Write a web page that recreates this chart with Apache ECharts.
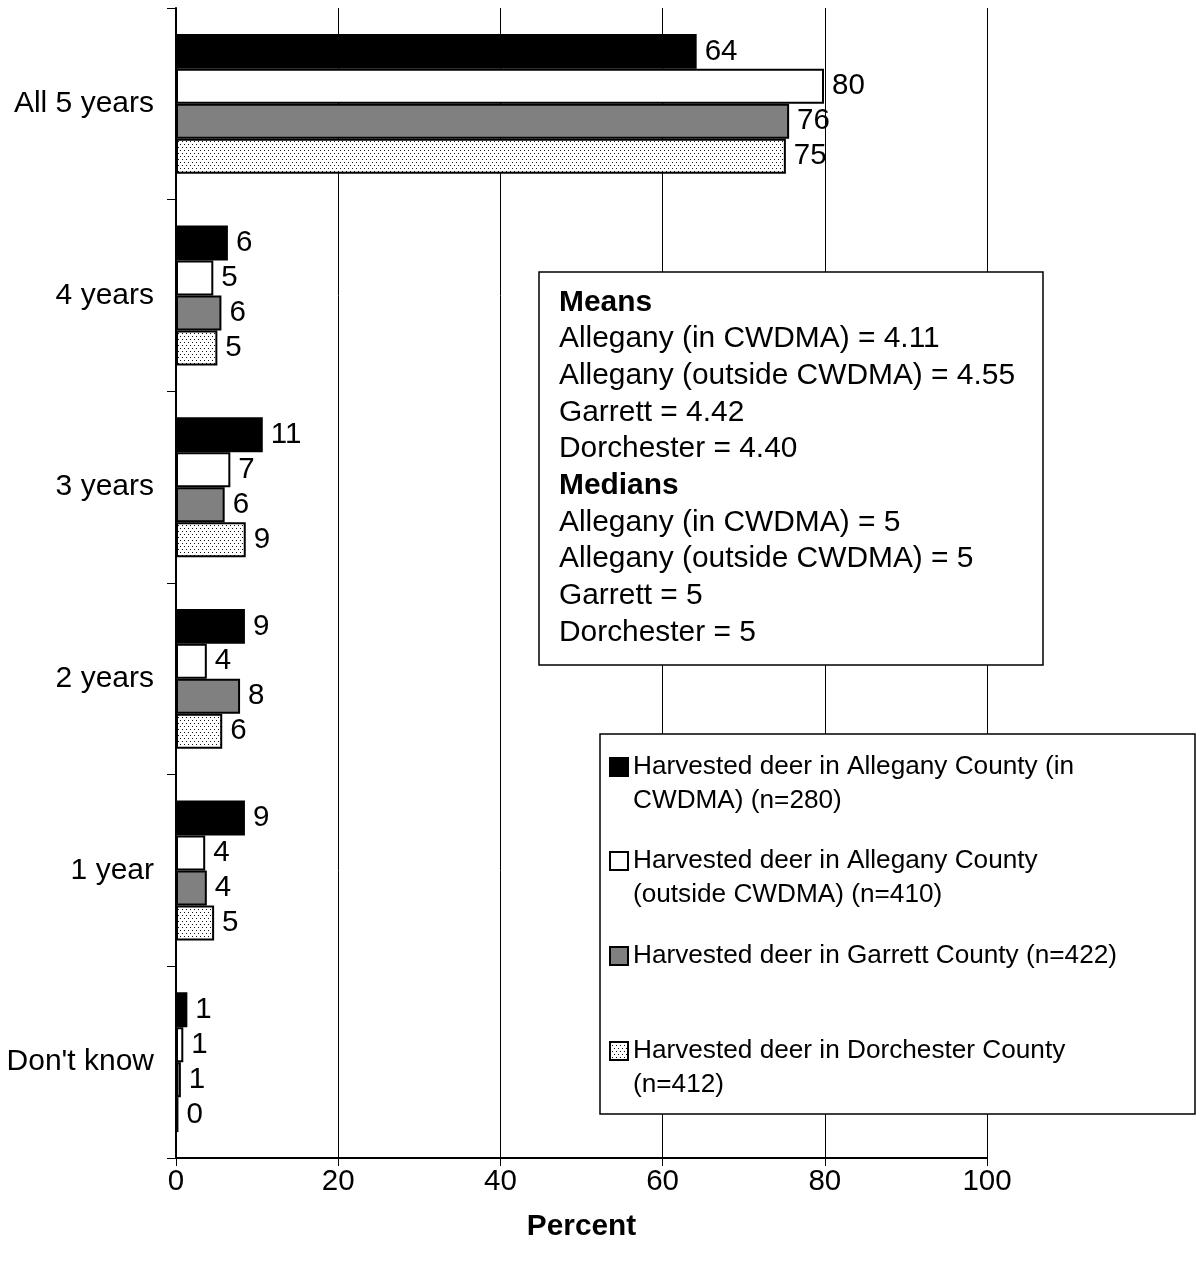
<!DOCTYPE html>
<html>
<head>
<meta charset="utf-8">
<script src="https://cdn.jsdelivr.net/npm/echarts@6/dist/echarts.min.js"></script>
<style>
html,body{margin:0;padding:0;background:#fff;}
#chart{width:1196px;height:1267px;}
</style>
</head>
<body>
<div id="chart"></div>
<script>
const categories = ['All 5 years', '4 years', '3 years', '2 years', '1 year', "Don't know"];
const seriesNames = [
  'Harvested deer in Allegany County (in CWDMA) (n=280)',
  'Harvested deer in Allegany County (outside CWDMA) (n=410)',
  'Harvested deer in Garrett County (n=422)',
  'Harvested deer in Dorchester County (n=412)'
];
const legendLabels = [
  'Harvested deer in Allegany County (in\nCWDMA) (n=280)',
  'Harvested deer in Allegany County\n(outside CWDMA) (n=410)',
  'Harvested deer in Garrett County (n=422)',
  'Harvested deer in Dorchester County\n(n=412)'
];
const alleganyIn = [64.2, 6.4, 10.7, 8.5, 8.5, 1.4];
const alleganyOut = [79.9, 4.6, 6.7, 3.8, 3.6, 0.9];
const garrett = [75.6, 5.6, 6.0, 7.9, 3.8, 0.6];
const dorchester = [75.2, 5.1, 8.6, 5.7, 4.7, 0.3];
const xTicks = [0, 20, 40, 60, 80, 100];
const statsText = [
  '{b|Means}',
  'Allegany (in CWDMA) = 4.11',
  'Allegany (outside CWDMA) = 4.55',
  'Garrett = 4.42',
  'Dorchester = 4.40',
  '{b|Medians}',
  'Allegany (in CWDMA) = 5',
  'Allegany (outside CWDMA) = 5',
  'Garrett = 5',
  'Dorchester = 5'
];

const FONT = "'Liberation Sans', Arial, sans-serif";

// dotted pattern
const pat = document.createElement('canvas');
pat.width = 4; pat.height = 6;
const pctx = pat.getContext('2d');
pctx.fillStyle = '#ffffff';
pctx.fillRect(0, 0, 4, 6);
pctx.fillStyle = '#111111';
pctx.fillRect(0, 0, 1, 1);
pctx.fillRect(2, 3, 1, 1);

const fills = ['#000000', '#ffffff', '#808080', { image: pat, repeat: 'repeat' }];
const dataSets = [alleganyIn, alleganyOut, garrett, dorchester];

const chart = echarts.init(document.getElementById('chart'), null, { renderer: 'canvas' });

const legendCenters = [767, 861, 956, 1051];
const legends = seriesNames.map((name, i) => {
  const twoLine = legendLabels[i].indexOf('\n') >= 0;
  return {
    show: true,
    selectedMode: false,
    orient: 'vertical',
    left: 609,
    top: twoLine ? legendCenters[i] - 51 : legendCenters[i] - 17,
    padding: 0,
    itemWidth: 18,
    itemHeight: 18,
    icon: 'rect',
    z: 20,
    data: [{ name: name }],
    formatter: function () { return twoLine ? '\n' + legendLabels[i] : legendLabels[i]; },
    textStyle: { fontFamily: FONT, fontSize: 26.2, color: '#000', lineHeight: 34 }
  };
});

const option = {
  backgroundColor: '#ffffff',
  animation: false,
  textStyle: { fontFamily: FONT },
  grid: { left: 176, right: 209, top: 8, bottom: 109, containLabel: false },
  legend: legends,
  xAxis: {
    type: 'value',
    min: xTicks[0],
    max: xTicks[xTicks.length - 1],
    interval: 20,
    name: 'Percent',
    nameLocation: 'middle',
    nameGap: 54,
    nameTextStyle: { fontFamily: FONT, fontSize: 29.8, fontWeight: 'bold', color: '#000' },
    axisLine: { show: true, lineStyle: { color: '#000', width: 2 } },
    axisTick: { show: true, length: 8, lineStyle: { color: '#000', width: 1 } },
    axisLabel: { fontFamily: FONT, fontSize: 29.5, color: '#000', margin: 9 },
    splitLine: { show: true, lineStyle: { color: '#000', width: 1 } }
  },
  yAxis: {
    type: 'category',
    inverse: true,
    data: categories,
    axisLine: { show: true, lineStyle: { color: '#000', width: 2 } },
    axisTick: { show: true, length: 9, lineStyle: { color: '#000', width: 1 } },
    axisLabel: { fontFamily: FONT, fontSize: 30, color: '#000', margin: 22 },
    splitLine: { show: false }
  },
  series: seriesNames.map((name, i) => ({
    type: 'bar',
    name: name,
    data: dataSets[i],
    barGap: '0%',
    barCategoryGap: '27%',
    itemStyle: { color: fills[i], borderColor: '#000', borderWidth: 2 },
    label: {
      show: true,
      position: 'right',
      distance: 8,
      fontFamily: FONT,
      fontSize: 29.5,
      color: '#000',
      formatter: function (p) { return String(Math.round(p.value)); }
    },
    z: 3
  })),
  graphic: [
    {
      type: 'rect', z: 10,
      shape: { x: 539, y: 272, width: 504, height: 393 },
      style: { fill: '#ffffff', stroke: '#000', lineWidth: 1.5 }
    },
    {
      type: 'text', z: 11,
      x: 559, y: 284,
      style: {
        text: statsText.join('\n'),
        fontFamily: FONT, fontSize: 29.9, lineHeight: 36.7, fill: '#000',
        rich: { b: { fontFamily: FONT, fontSize: 29.9, fontWeight: 'bold', lineHeight: 36.7, fill: '#000' } }
      }
    },
    {
      type: 'rect', z: 10,
      shape: { x: 600, y: 734, width: 595, height: 380 },
      style: { fill: '#ffffff', stroke: '#000', lineWidth: 1.5 }
    }
  ]
};
chart.setOption(option);
</script>
</body>
</html>
